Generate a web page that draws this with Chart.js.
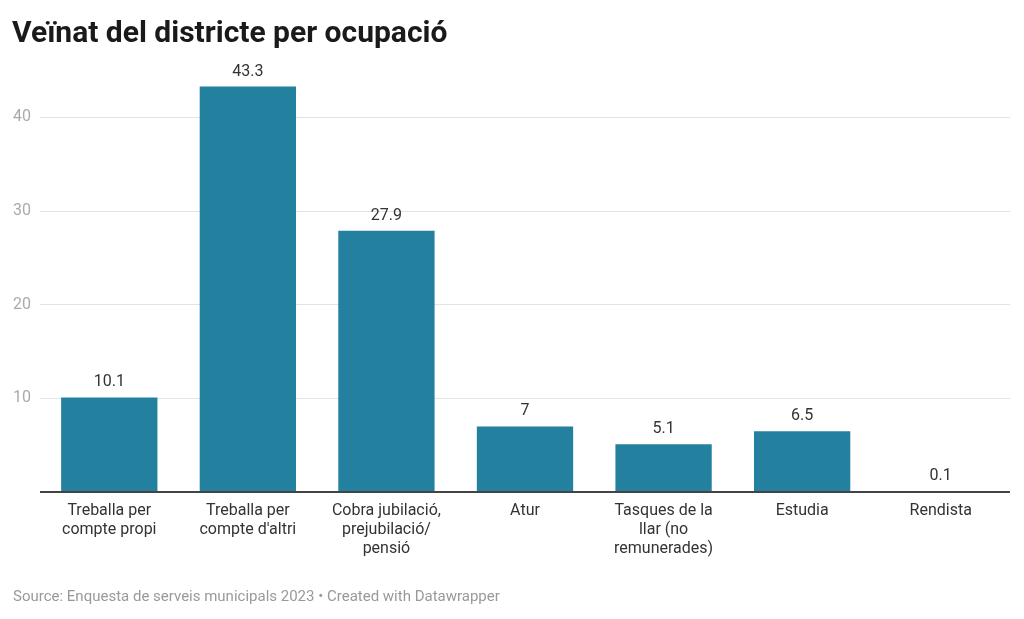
<!DOCTYPE html>
<html>
<head>
<meta charset="utf-8">
<script src="https://cdn.jsdelivr.net/npm/chart.js@4"></script>
<style>
  html, body { margin: 0; padding: 0; background: #fff; }
  body { width: 1024px; height: 619px; position: relative; overflow: hidden; font-family: Roboto, sans-serif; }
  #title { position: absolute; left: 12px; top: 14px; font-size: 30px; line-height: 36px; font-weight: 700; color: #1a1a1a; white-space: nowrap; }
  #source { position: absolute; left: 13px; top: 587px; font-size: 15px; line-height: 18px; color: #999; white-space: nowrap; }
  #wrap { position: absolute; left: 0; top: 0; width: 1024px; height: 619px; }
</style>
</head>
<body>
<div id="wrap"><canvas id="c"></canvas></div>
<div id="title">Veïnat del districte per ocupació</div>
<div id="source">Source: Enquesta de serveis municipals 2023 • Created with Datawrapper</div>
<script>
const categories = [
  ["Treballa per", "compte propi"],
  ["Treballa per", "compte d'altri"],
  ["Cobra jubilació,", "prejubilació/", "pensió"],
  ["Atur"],
  ["Tasques de la", "llar (no", "remunerades)"],
  ["Estudia"],
  ["Rendista"]
];
const values = [10.1, 43.3, 27.9, 7, 5.1, 6.5, 0.1];
const yTicks = [10, 20, 30, 40];

const valueLabels = {
  id: 'valueLabels',
  afterDatasetsDraw(chart) {
    const ctx = chart.ctx;
    const meta = chart.getDatasetMeta(0);
    ctx.save();
    ctx.font = '16px Roboto, sans-serif';
    ctx.fillStyle = '#333';
    ctx.textAlign = 'center';
    ctx.textBaseline = 'middle';
    meta.data.forEach((bar, i) => {
      ctx.fillText(String(values[i]), bar.x, bar.y - 15);
    });
    ctx.restore();
  }
};

new Chart(document.getElementById('c'), {
  type: 'bar',
  data: {
    labels: categories,
    datasets: [{
      data: values,
      backgroundColor: '#23809f',
      borderWidth: 0,
      barPercentage: 0.695,
      categoryPercentage: 1
    }]
  },
  options: {
    responsive: true,
    maintainAspectRatio: false,
    animation: false,
    layout: { padding: { left: 13, right: 14, top: 80, bottom: 0 } },
    plugins: { legend: { display: false }, tooltip: { enabled: false } },
    scales: {
      x: {
        grid: { display: false, drawTicks: false },
        border: { display: false },
        ticks: {
          color: '#333',
          font: { family: 'Roboto', size: 16, lineHeight: 1.2 },
          padding: 9,
          maxRotation: 0,
          autoSkip: false
        },
        afterFit(scale) { scale.height = 127; }
      },
      y: {
        min: 0,
        max: 44,
        afterBuildTicks(scale) {
          scale.ticks = [0].concat(yTicks).map(v => ({ value: v }));
        },
        grid: {
          drawTicks: false,
          color: ctx => ctx.tick && ctx.tick.value === 0 ? '#444' : '#e3e3e3',
          lineWidth: ctx => ctx.tick && ctx.tick.value === 0 ? 2 : 1
        },
        border: { display: false },
        ticks: {
          color: '#aaa',
          font: { family: 'Roboto', size: 16 },
          crossAlign: 'far',
          callback: v => (v === 0 ? '' : String(v))
        },
        afterFit(scale) { scale.width = 27; }
      }
    }
  },
  plugins: [valueLabels]
});
</script>
</body>
</html>
